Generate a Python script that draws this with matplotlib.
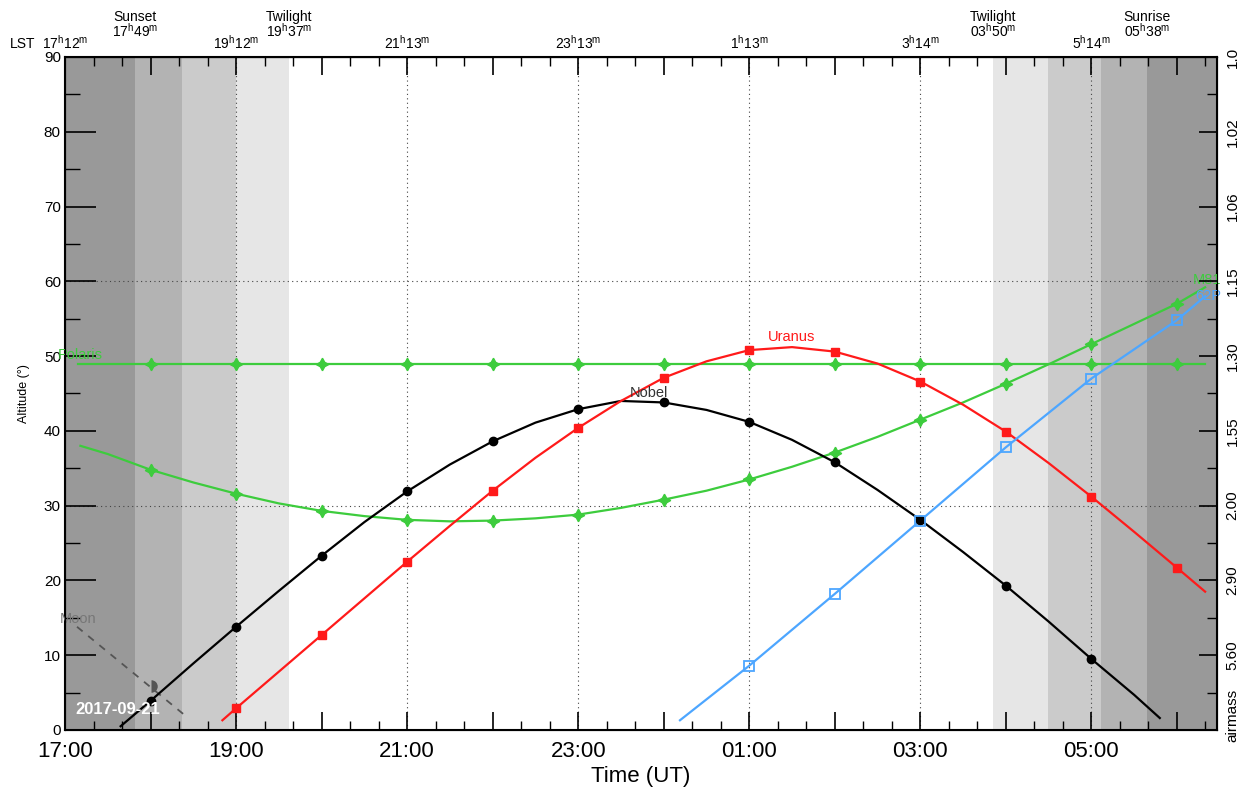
import matplotlib
matplotlib.use("Agg")
import matplotlib.pyplot as plt
from matplotlib.ticker import MultipleLocator, FixedLocator, FuncFormatter
from matplotlib.transforms import blended_transform_factory

# hours since 17:00 UT; curves read every half hour, markers sit on the whole hours
nobel_x = [0.65, 1, 1.5, 2, 2.5, 3, 3.5, 4, 4.5, 5, 5.5, 6, 6.5, 7, 7.5, 8, 8.5,
           9, 9.5, 10, 10.5, 11, 11.5, 12, 12.5, 12.8]
nobel_alt = [0.5, 3.9, 8.9, 13.8, 18.6, 23.3, 27.8, 31.9, 35.5, 38.6, 41.1, 42.9, 44.0,
             43.8, 42.8, 41.2, 38.8, 35.8, 32.1, 28.1, 23.8, 19.3, 14.5, 9.5, 4.7, 1.6]

uranus_x = [1.84, 2, 2.5, 3, 3.5, 4, 4.5, 5, 5.5, 6, 6.5, 7, 7.5, 8, 8.5, 9, 9.5,
            10, 10.5, 11, 11.5, 12, 12.5, 13, 13.33]
uranus_alt = [1.3, 2.9, 7.8, 12.7, 17.6, 22.5, 27.3, 32.0, 36.4, 40.4, 44.0, 47.1, 49.3,
              50.8, 51.2, 50.6, 49.0, 46.6, 43.5, 39.9, 35.7, 31.2, 26.5, 21.7, 18.5]

polaris_x = [0.15, 1, 2, 3, 4, 5, 6, 7, 8, 9, 10, 11, 12, 13, 13.33]
polaris_alt = [48.9, 48.9, 48.9, 48.9, 48.9, 48.9, 48.9, 48.9, 48.9, 48.9, 48.9, 48.9,
               48.9, 48.9, 48.9]

m81_x = [0.18, 0.5, 1, 1.5, 2, 2.5, 3, 3.5, 4, 4.5, 5, 5.5, 6, 6.5, 7, 7.5, 8, 8.5,
         9, 9.5, 10, 10.5, 11, 11.5, 12, 12.5, 13, 13.33]
m81_alt = [38.0, 36.9, 34.8, 33.1, 31.6, 30.3, 29.3, 28.6, 28.1, 27.9, 28.0, 28.3, 28.8,
           29.7, 30.8, 32.0, 33.5, 35.2, 37.1, 39.2, 41.5, 43.8, 46.3, 48.9, 51.6, 54.3,
           57.0, 59.2]

comet_x = [7.19, 8, 9, 10, 11, 12, 13, 13.33]
comet_alt = [1.3, 8.6, 18.2, 28.0, 37.8, 47.0, 54.8, 58.0]

moon_x = [0.14, 1.44]
moon_alt = [13.8, 1.6]
moon_now = (1.0, 5.9)

# twilight band edges (hours since 17:00) and shades
bands_left = [0, 0.819, 1.368, 2.0, 2.62]
bands_right = [10.85, 11.49, 12.11, 12.65, 13.47]
band_grays = ["#999999", "#b3b3b3", "#cbcbcb", "#e6e6e6"]

ut_labels = ["17:00", "19:00", "21:00", "23:00", "01:00", "03:00", "05:00"]
lst_labels = ["17$^\\mathrm{h}$12$^\\mathrm{m}$", "19$^\\mathrm{h}$12$^\\mathrm{m}$",
              "21$^\\mathrm{h}$13$^\\mathrm{m}$", "23$^\\mathrm{h}$13$^\\mathrm{m}$",
              "1$^\\mathrm{h}$13$^\\mathrm{m}$", "3$^\\mathrm{h}$14$^\\mathrm{m}$",
              "5$^\\mathrm{h}$14$^\\mathrm{m}$"]
airmass_labels = ["", "5.60", "2.90", "2.00", "1.55", "1.30", "1.15", "1.06", "1.02", "1.0"]

sun_events = [(0.819, "Sunset\n17$^\\mathrm{h}$49$^\\mathrm{m}$"),
              (2.62, "Twilight\n19$^\\mathrm{h}$37$^\\mathrm{m}$"),
              (10.85, "Twilight\n03$^\\mathrm{h}$50$^\\mathrm{m}$"),
              (12.65, "Sunrise\n05$^\\mathrm{h}$38$^\\mathrm{m}$")]

GREEN = "#3dcc3d"
RED = "#ff1a1a"
BLUE = "#4da6ff"


def on_hours(xs, ys):
    pts = [(x, y) for x, y in zip(xs, ys) if float(x).is_integer()]
    return [p[0] for p in pts], [p[1] for p in pts]


plt.rcParams["font.family"] = ["Liberation Sans", "DejaVu Sans"]
plt.rcParams["mathtext.fontset"] = "custom"
plt.rcParams["mathtext.rm"] = "Liberation Sans"

fig = plt.figure(figsize=(12.46, 7.89), dpi=100)
ax = fig.add_axes([0.0522, 0.0748, 0.9246, 0.853])
ax.set_xlim(0, bands_right[-1])
ax.set_ylim(0, 90)

for i, g in enumerate(band_grays):
    ax.axvspan(bands_left[i], bands_left[i + 1], color=g, lw=0, zorder=0)
    ax.axvspan(bands_right[-2 - i], bands_right[-1 - i], color=g, lw=0, zorder=0)

for xv in range(2, 13, 2):
    ax.axvline(xv, color="#444444", ls=(0, (1, 3)), lw=0.8, zorder=1)
for yv in (30, 60):
    ax.axhline(yv, color="#444444", ls=(0, (1, 3)), lw=0.8, zorder=1)

ax.plot(moon_x, moon_alt, color="#555555", ls=(0, (4, 4)), lw=1.3, zorder=2)
ax.plot([moon_now[0]], [moon_now[1]], marker="o", ms=9, fillstyle="right", mfc="#555555",
        mfcalt="none", mec="none", zorder=3)

star = (4, 1, 0)
ax.plot(polaris_x, polaris_alt, color=GREEN, lw=1.6, zorder=3)
ax.plot(*on_hours(polaris_x, polaris_alt), ls="none", marker=star, ms=9, color=GREEN, zorder=4)
ax.plot(m81_x, m81_alt, color=GREEN, lw=1.6, zorder=3)
ax.plot(*on_hours(m81_x, m81_alt), ls="none", marker=star, ms=9, color=GREEN, zorder=4)
ax.plot(nobel_x, nobel_alt, color="black", lw=1.6, zorder=3)
ax.plot(*on_hours(nobel_x, nobel_alt), ls="none", marker="o", ms=6, color="black", zorder=4)
ax.plot(uranus_x, uranus_alt, color=RED, lw=1.6, zorder=3)
ax.plot(*on_hours(uranus_x, uranus_alt), ls="none", marker="s", ms=6, color=RED, zorder=4)
ax.plot(comet_x, comet_alt, color=BLUE, lw=1.6, zorder=3)
ax.plot(*on_hours(comet_x, comet_alt), ls="none", marker="s", ms=7,
        mfc="none", mec=BLUE, mew=1.3, zorder=4)

ax.text(-0.09, 50.1, "Polaris", color=GREEN, fontsize=10.5, ha="left", va="center",
        zorder=6, clip_on=False)
ax.text(13.52, 60.2, "M81", color=GREEN, fontsize=10.5, ha="right", va="center",
        zorder=6, clip_on=False)
ax.text(13.52, 58.0, "62P", color=BLUE, fontsize=10.5, ha="right", va="center",
        zorder=6, clip_on=False)
ax.text(8.49, 52.6, "Uranus", color=RED, fontsize=10.5, ha="center", va="center", zorder=6)
ax.text(6.83, 45.0, "Nobel", color="#333333", fontsize=10.5, ha="center", va="center",
        zorder=6)
ax.text(-0.06, 14.9, "Moon", color="#777777", fontsize=10.5, ha="left", va="center",
        zorder=6, clip_on=False)
ax.text(0.12, 2.7, "2017-09-21", color="white", fontsize=12, fontweight="bold",
        ha="left", va="center", zorder=10)

ax.xaxis.set_major_locator(MultipleLocator(1))
ax.xaxis.set_minor_locator(MultipleLocator(1 / 3))
ax.xaxis.set_major_formatter(FuncFormatter(
    lambda v, p: ut_labels[int(round(v)) // 2]
    if int(round(v)) % 2 == 0 and int(round(v)) // 2 < len(ut_labels) else ""))
ax.yaxis.set_major_locator(MultipleLocator(10))
ax.yaxis.set_minor_locator(MultipleLocator(5))
ax.tick_params(axis="x", which="major", direction="in", length=13, width=1.2,
               top=True, labelsize=16, pad=8)
ax.tick_params(axis="x", which="minor", direction="in", length=6.5, width=1, top=True)
ax.tick_params(axis="y", which="major", direction="in", length=22, width=1.2,
               labelsize=11, pad=3)
ax.tick_params(axis="y", which="minor", direction="in", length=11, width=1)
ax.set_xlabel("Time (UT)", fontsize=16, labelpad=3)
ax.set_ylabel("Altitude (°)", fontsize=9, labelpad=10)
for s in ax.spines.values():
    s.set_linewidth(1.5)

top = ax.secondary_xaxis("top")
top.xaxis.set_major_locator(FixedLocator(range(0, 13, 2)))
top.set_xticklabels(lst_labels, fontsize=10)
top.tick_params(direction="in", length=0, pad=4)

right = ax.twinx()
right.set_ylim(0, 90)
right.yaxis.set_major_locator(FixedLocator(range(0, 91, 10)))
right.yaxis.set_minor_locator(MultipleLocator(5))
right.set_yticklabels(airmass_labels, rotation=90, va="center", fontsize=11)
right.tick_params(axis="y", which="major", direction="in", length=13, width=1.2, pad=6)
right.tick_params(axis="y", which="minor", direction="in", length=7, width=1)
right_trans = blended_transform_factory(ax.transAxes, ax.transData)
ax.text(1.013, 1.9, "airmass", transform=right_trans, rotation=90, ha="center",
        va="center", fontsize=11, clip_on=False)

trans = blended_transform_factory(ax.transData, ax.transAxes)
for xv, lab in sun_events:
    ax.text(xv, 1.048, lab, transform=trans, ha="center", va="center", fontsize=10,
            linespacing=0.85)
fig.text(10 / 1246, 1 - 44 / 789, "LST", fontsize=10, ha="left", va="center")

fig.savefig("out.png", dpi=100)
